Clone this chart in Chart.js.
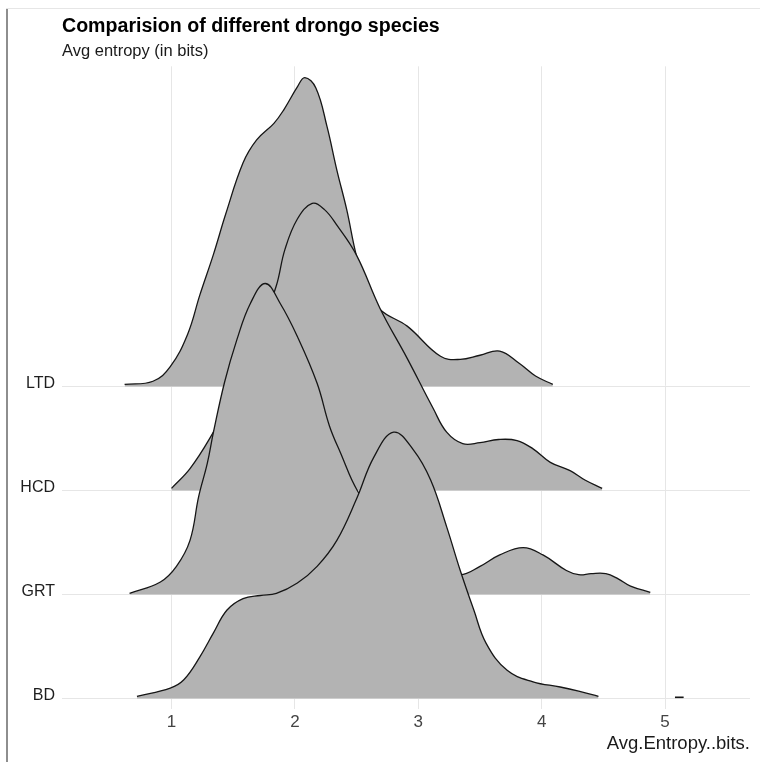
<!DOCTYPE html>
<html>
<head>
<meta charset="utf-8">
<script src="https://cdn.jsdelivr.net/npm/chart.js@4.4.1/dist/chart.umd.min.js"></script>
<style>
  html, body { margin: 0; padding: 0; background: #ffffff; }
  #wrap { position: relative; width: 760px; height: 762px; }
  #c { position: absolute; left: 0; top: 0; }
  .frameL { position: absolute; left: 6px; top: 8px; width: 2px; height: 754px; background: #8e8e8e; }
  .frameT { position: absolute; left: 6px; top: 8px; width: 754px; height: 1px; background: #e6e6e6; }
</style>
</head>
<body>
<div id="wrap">
  <canvas id="c" width="760" height="762"></canvas>
  <div class="frameL"></div>
  <div class="frameT"></div>
</div>
<script>
// ---- Data ----
const categories = ['BD', 'GRT', 'HCD', 'LTD'];           // ridge order bottom -> top
const xTicks = [1, 2, 3, 4, 5];

// density ridge heights (in units of ridge spacing) at entropy values
const ltdX = [0.62, 0.85, 0.99, 1.13, 1.23, 1.34, 1.44, 1.58, 1.69, 1.83, 1.91, 2.02, 2.08, 2.17, 2.26, 2.34, 2.42, 2.50, 2.58, 2.69, 2.91, 3.18, 3.34, 3.50, 3.66, 3.82, 3.95, 4.09];
const ltdH = [0.02, 0.05, 0.19, 0.50, 0.88, 1.27, 1.66, 2.15, 2.37, 2.53, 2.66, 2.88, 2.97, 2.87, 2.50, 2.08, 1.70, 1.25, 0.96, 0.74, 0.58, 0.29, 0.26, 0.30, 0.34, 0.22, 0.10, 0.02];

const hcdX = [1.00, 1.15, 1.31, 1.45, 1.60, 1.75, 1.85, 1.92, 2.02, 2.14, 2.24, 2.34, 2.50, 2.69, 2.91, 3.12, 3.23, 3.36, 3.50, 3.65, 3.80, 3.93, 4.07, 4.23, 4.35, 4.49];
const hcdH = [0.02, 0.21, 0.50, 0.82, 1.22, 1.65, 1.97, 2.32, 2.61, 2.76, 2.70, 2.55, 2.26, 1.75, 1.27, 0.79, 0.56, 0.45, 0.46, 0.49, 0.48, 0.40, 0.27, 0.19, 0.10, 0.02];

const grtX = [0.66, 0.91, 1.04, 1.15, 1.22, 1.29, 1.34, 1.43, 1.53, 1.64, 1.76, 1.88, 2.02, 2.18, 2.28, 2.37, 2.51, 2.70, 2.90, 3.10, 3.34, 3.50, 3.66, 3.85, 4.01, 4.20, 4.30, 4.40, 4.52, 4.62, 4.72, 4.88];
const grtH = [0.01, 0.12, 0.27, 0.52, 0.94, 1.26, 1.56, 2.04, 2.45, 2.80, 2.99, 2.80, 2.48, 2.03, 1.62, 1.36, 0.99, 0.70, 0.45, 0.27, 0.19, 0.27, 0.38, 0.45, 0.38, 0.23, 0.19, 0.20, 0.20, 0.15, 0.08, 0.02];

const bdX = [0.72, 0.99, 1.10, 1.23, 1.34, 1.45, 1.58, 1.72, 1.85, 2.02, 2.18, 2.34, 2.50, 2.64, 2.80, 2.96, 3.10, 3.23, 3.34, 3.45, 3.55, 3.72, 3.93, 4.15, 4.30, 4.46];
const bdH = [0.02, 0.10, 0.18, 0.40, 0.63, 0.85, 0.96, 0.99, 1.01, 1.11, 1.27, 1.52, 1.92, 2.32, 2.56, 2.39, 2.10, 1.65, 1.23, 0.85, 0.53, 0.27, 0.16, 0.11, 0.07, 0.02];

const bdTailX = [5.08, 5.15];
const bdTailH = [0.012, 0.012];

// ---- Build datasets ----
const FILL = '#b3b3b3';
const LINE = '#161616';
function ridge(label, xs, hs, cat, order, bw) {
  const base = categories.indexOf(cat) + 1;
  return {
    label: label,
    data: xs.map((x, i) => ({ x: x, y: base + hs[i] })),
    fill: { value: base },
    backgroundColor: FILL,
    borderColor: LINE,
    borderWidth: bw,
    pointRadius: 0,
    tension: 0.4,
    order: order
  };
}

const datasets = [
  ridge('BD tail', bdTailX, bdTailH, 'BD', 0, 1.6),
  ridge('BD', bdX, bdH, 'BD', 1, 1.3),
  ridge('GRT', grtX, grtH, 'GRT', 2, 1.3),
  ridge('HCD', hcdX, hcdH, 'HCD', 3, 1.3),
  ridge('LTD', ltdX, ltdH, 'LTD', 4, 1.3)
];

const FONT = "'Liberation Sans', Arial, Helvetica, sans-serif";
const GRID = '#e6e6e6';

const yLabelPlugin = {
  id: 'yLabels',
  afterDraw(chart) {
    const ctx = chart.ctx;
    const ys = chart.scales.y;
    ctx.save();
    ctx.font = '16px ' + FONT;
    ctx.fillStyle = '#1e1e1e';
    ctx.textAlign = 'right';
    ctx.textBaseline = 'alphabetic';
    categories.forEach((c, i) => {
      const py = ys.getPixelForValue(i + 1);
      ctx.fillText(c, 55, py + 1.5);
    });
    ctx.restore();
  }
};

new Chart(document.getElementById('c'), {
  type: 'line',
  data: { datasets: datasets },
  options: {
    responsive: false,
    animation: false,
    layout: { padding: { left: 0, right: 10, top: 0, bottom: 0 } },
    plugins: {
      legend: { display: false },
      tooltip: { enabled: false },
      title: {
        display: true,
        text: 'Comparision of different drongo species',
        align: 'start',
        fullSize: false,
        color: '#000000',
        font: { family: FONT, size: 19.6, weight: 'bold' },
        padding: { top: 15, bottom: 0 }
      },
      subtitle: {
        display: true,
        text: 'Avg entropy (in bits)',
        align: 'start',
        fullSize: false,
        color: '#1a1a1a',
        font: { family: FONT, size: 16.5 },
        padding: { top: 3, bottom: 5 }
      }
    },
    scales: {
      x: {
        type: 'linear',
        min: 0.1127,
        max: 5.688,
        afterBuildTicks: (s) => { s.ticks = xTicks.map(v => ({ value: v })); },
        afterFit: (s) => { s.height = 57; },
        grid: { color: GRID, lineWidth: 1, drawTicks: true, tickLength: 4, tickColor: GRID },
        border: { display: false },
        ticks: { color: '#444444', font: { family: FONT, size: 17 }, padding: 3, maxRotation: 0 },
        title: {
          display: true,
          text: 'Avg.Entropy..bits.',
          align: 'end',
          color: '#1a1a1a',
          font: { family: FONT, size: 18.5 },
          padding: { top: 0, bottom: 7 }
        }
      },
      y: {
        type: 'linear',
        min: 0.937,
        max: 7.078,
        afterBuildTicks: (s) => { s.ticks = categories.map((c, i) => ({ value: i + 1 })); },
        afterFit: (s) => { s.width = 62; },
        grid: { color: GRID, lineWidth: 1, drawTicks: false },
        border: { display: false },
        ticks: { display: false }
      }
    }
  },
  plugins: [yLabelPlugin]
});
</script>
</body>
</html>
